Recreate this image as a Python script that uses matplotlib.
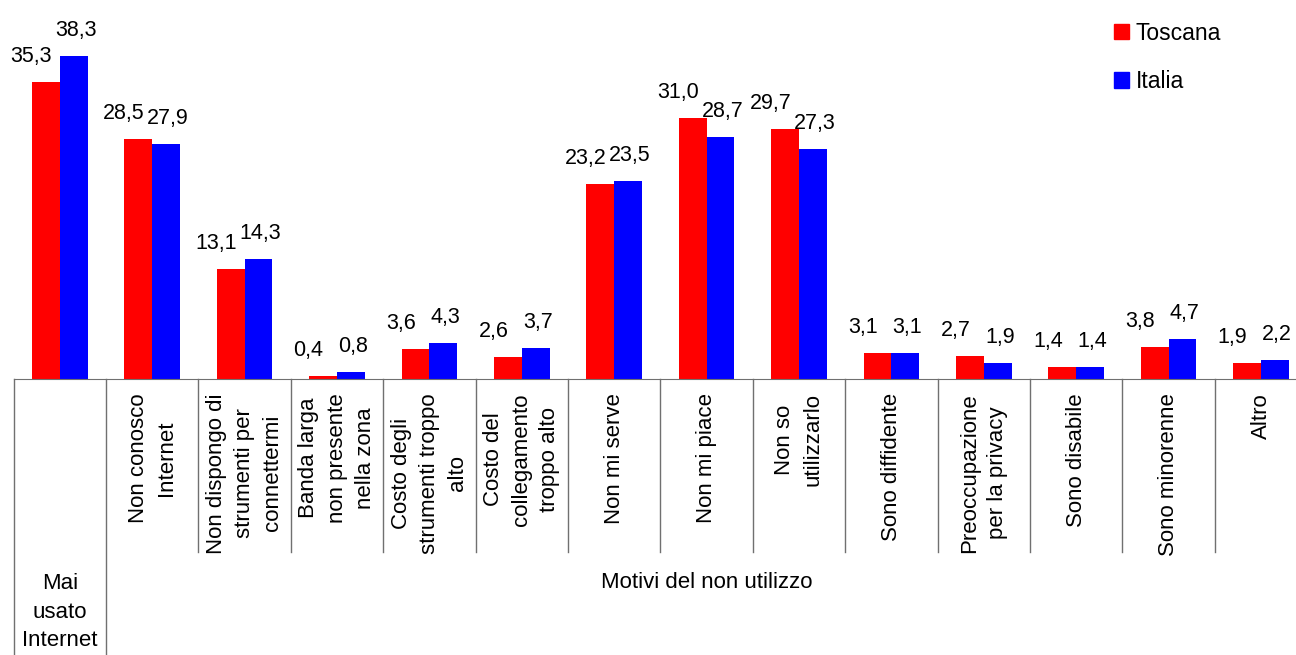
import matplotlib.pyplot as plt
from matplotlib.patches import Patch
import matplotlib.transforms as mtransforms

plt.rcParams['font.family'] = ['Liberation Sans', 'DejaVu Sans']

categories = ["", "Non conosco\nInternet", "Non dispongo di\nstrumenti per\nconnettermi",
              "Banda larga\nnon presente\nnella zona", "Costo degli\nstrumenti troppo\nalto",
              "Costo del\ncollegamento\ntroppo alto", "Non mi serve", "Non mi piace",
              "Non so\nutilizzarlo", "Sono diffidente", "Preoccupazione\nper la privacy",
              "Sono disabile", "Sono minorenne", "Altro"]
toscana = [35.3, 28.5, 13.1, 0.4, 3.6, 2.6, 23.2, 31.0, 29.7, 3.1, 2.7, 1.4, 3.8, 1.9]
italia = [38.3, 27.9, 14.3, 0.8, 4.3, 3.7, 23.5, 28.7, 27.3, 3.1, 1.9, 1.4, 4.7, 2.2]
group1 = "Mai\nusato\nInternet"
group2 = "Motivi del non utilizzo"

W, H = 1296, 655
fig = plt.figure(figsize=(W / 100, H / 100), dpi=100)
ax = fig.add_axes([13.6 / W, (H - 379) / H, 14 * 92.4 / W, 379 / H])

x = list(range(len(categories)))
bw = 0.3
ax.bar([i - bw / 2 for i in x], toscana, bw, color='#ff0000', label='Toscana')
ax.bar([i + bw / 2 for i in x], italia, bw, color='#0000ff', label='Italia')

for i in x:
    ax.annotate(f"{toscana[i]:.1f}".replace('.', ','), xy=(i - bw / 2, toscana[i]),
                xytext=(-10.5, 14.4), textcoords='offset points',
                ha='center', va='baseline', fontsize=15.5)
    ax.annotate(f"{italia[i]:.1f}".replace('.', ','), xy=(i + bw / 2, italia[i]),
                xytext=(1.5, 14.4), textcoords='offset points',
                ha='center', va='baseline', fontsize=15.5)

ax.set_xlim(-0.5, len(categories) - 0.5)
ax.set_ylim(0, 45)
for s in ['left', 'right', 'top']:
    ax.spines[s].set_visible(False)
ax.spines['bottom'].set_color('#707070')
ax.set_xticks([])
ax.set_yticks([])

# category axis lines and labels
trans = mtransforms.blended_transform_factory(ax.transData, ax.transAxes)
lw = 1.0
for k in range(len(categories) + 1):
    xb = k - 0.5
    ybot = -276 / 379 if k <= 1 else -(552 - 379) / 379
    ax.plot([xb, xb], [0, ybot], transform=trans, color='#707070', lw=lw, clip_on=False)

for i, lab in enumerate(categories):
    if lab:
        ax.text(i, -14 / 379, lab, transform=trans, rotation=90, ha='center', va='top',
                multialignment='center', fontsize=16, linespacing=1.45)

ax.text(0, -(612 - 379) / 379, group1, transform=trans, ha='center', va='center',
        fontsize=16, linespacing=1.45)
ax.text((1 + len(categories) - 1) / 2, -(583 - 379) / 379, group2, transform=trans,
        ha='center', va='center', fontsize=16)

handles = [Patch(color='#ff0000', label='Toscana'), Patch(color='#0000ff', label='Italia')]
fig.legend(handles=handles, loc='upper left', bbox_to_anchor=(1093 / W, 1 - 1 / H),
           frameon=False, fontsize=16.5, handlelength=0.66, handleheight=0.66,
           handletextpad=0.3, labelspacing=1.1)

fig.savefig('out.png', dpi=100)
